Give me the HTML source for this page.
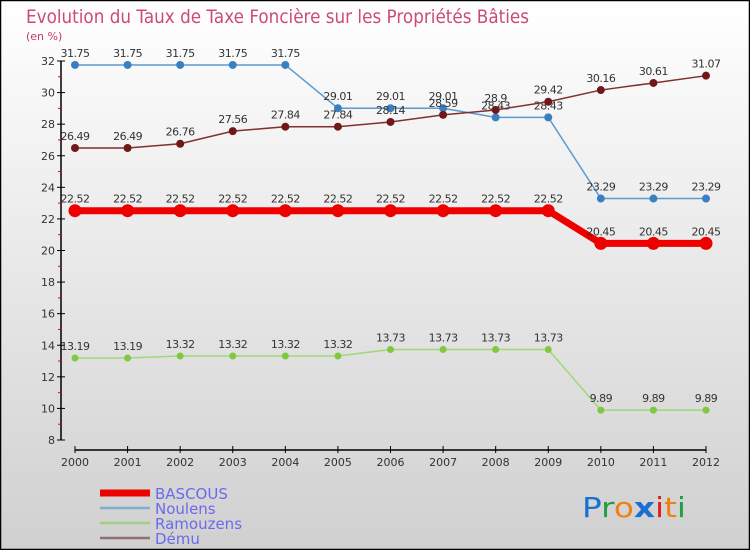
<!DOCTYPE html>
<html><head><meta charset="utf-8"><style>
body{margin:0}
#c{width:750px;height:550px;position:relative;overflow:hidden;font-family:"DejaVu Sans","Liberation Sans",sans-serif}
</style></head><body>
<div id="c">
<svg id="s" width="750" height="550" xmlns="http://www.w3.org/2000/svg">
<defs><linearGradient id="bg" x1="0" y1="0" x2="0" y2="1"><stop offset="0" stop-color="#ffffff"/><stop offset="1" stop-color="#d0d0d0"/></linearGradient></defs>
<rect x="0.5" y="0.5" width="749" height="549" fill="url(#bg)" stroke="#000" stroke-width="1.5"/>
<text x="26" y="23" font-size="19" fill="#c8366a" textLength="503" lengthAdjust="spacingAndGlyphs" style="opacity:0.9">Evolution du Taux de Taxe Foncière sur les Propriétés Bâties</text>
<text x="26" y="40" font-size="11" fill="#c8366a">(en %)</text>
<g id="axes"></g><g id="series"></g>
<g font-size="15" fill="#6a6aee">
<line x1="100" y1="493" x2="150" y2="493" stroke="#ee0000" stroke-width="7"/><text x="155" y="499">BASCOUS</text>
<line x1="100" y1="508" x2="150" y2="508" stroke="#80aed0" stroke-width="2.5"/><text x="155" y="514">Noulens</text>
<line x1="100" y1="523" x2="150" y2="523" stroke="#a0d080" stroke-width="2.5"/><text x="155" y="529">Ramouzens</text>
<line x1="100" y1="538" x2="150" y2="538" stroke="#907070" stroke-width="2.5"/><text x="155" y="544">Dému</text>
</g>
<g font-size="28" font-family="'DejaVu Sans',sans-serif">
<text x="582" y="517" textLength="104" lengthAdjust="spacingAndGlyphs"><tspan fill="#1a70d0">P</tspan><tspan fill="#20a040">r</tspan><tspan fill="#f08010">o</tspan><tspan fill="#1a70d0" font-weight="bold">x</tspan><tspan fill="#e02020">i</tspan><tspan fill="#f08010">t</tspan><tspan fill="#20a040">i</tspan></text>
</g>
</svg>
</div>
<script>
const years=[2000,2001,2002,2003,2004,2005,2006,2007,2008,2009,2010,2011,2012];
const yTicks=[8,10,12,14,16,18,20,22,24,26,28,30,32];
const bascous=[22.52,22.52,22.52,22.52,22.52,22.52,22.52,22.52,22.52,22.52,20.45,20.45,20.45];
const noulens=[31.75,31.75,31.75,31.75,31.75,29.01,29.01,29.01,28.43,28.43,23.29,23.29,23.29];
const ramouzens=[13.19,13.19,13.32,13.32,13.32,13.32,13.73,13.73,13.73,13.73,9.89,9.89,9.89];
const demu=[26.49,26.49,26.76,27.56,27.84,27.84,28.14,28.59,28.9,29.42,30.16,30.61,31.07];
const NS="http://www.w3.org/2000/svg";
const xS=i=>75+i*(706-75)/12;
const yS=v=>61+(32-v)*(440-61)/24;
function mk(t,a,p){const e=document.createElementNS(NS,t);for(const k in a)e.setAttribute(k,a[k]);p.appendChild(e);return e;}
const ax=document.getElementById('axes');
const yl=mk('line',{x1:61,y1:61,x2:61,y2:440,stroke:'#000','stroke-width':1.5},ax);


yTicks.forEach(v=>{
 mk('line',{x1:57,y1:yS(v),x2:65,y2:yS(v),stroke:'#000'},ax);
 if(v<32)mk('line',{x1:58,y1:yS(v+1),x2:61,y2:yS(v+1),stroke:'#e00'},ax);
 const t=mk('text',{x:55,y:yS(v)+4,'font-size':11,fill:'#333','text-anchor':'end'},ax);t.textContent=v;
 
 
});
const xl=mk('line',{x1:75,y1:450,x2:706,y2:450,stroke:'#000','stroke-width':1.5},ax);


years.forEach((y,i)=>{
 mk('line',{x1:xS(i),y1:446,x2:xS(i),y2:453,stroke:'#000'},ax);
 const t=mk('text',{x:xS(i),y:466,'font-size':11,fill:'#333','text-anchor':'middle'},ax);t.textContent=y;
 
 
});
const sg=document.getElementById('series');
function draw(name,vals,color,w,r,mfill){
 const g=mk('g',{},sg);
 
 
 mk('polyline',{points:vals.map((v,i)=>xS(i)+','+yS(v)).join(' '),fill:'none',stroke:color,'stroke-width':w},g);
 vals.forEach((v,i)=>{
  const c=mk('circle',{cx:xS(i),cy:yS(v),r:r,fill:mfill},g);
  
  
  const t=mk('text',{x:xS(i),y:yS(v)-8,'font-size':11,fill:'#333','text-anchor':'middle','letter-spacing':'-0.5'},g);t.textContent=v;
  
  
 });
}
draw('ramouzens',ramouzens,'#a0d878',1.5,3.5,'#80c840');
draw('noulens',noulens,'#5a9ad0',1.5,4,'#3a80c0');
draw('demu',demu,'#803030',1.5,4,'#701818');
draw('bascous',bascous,'#ee0000',7,6.5,'#ee0000');
</script>
</body></html>
